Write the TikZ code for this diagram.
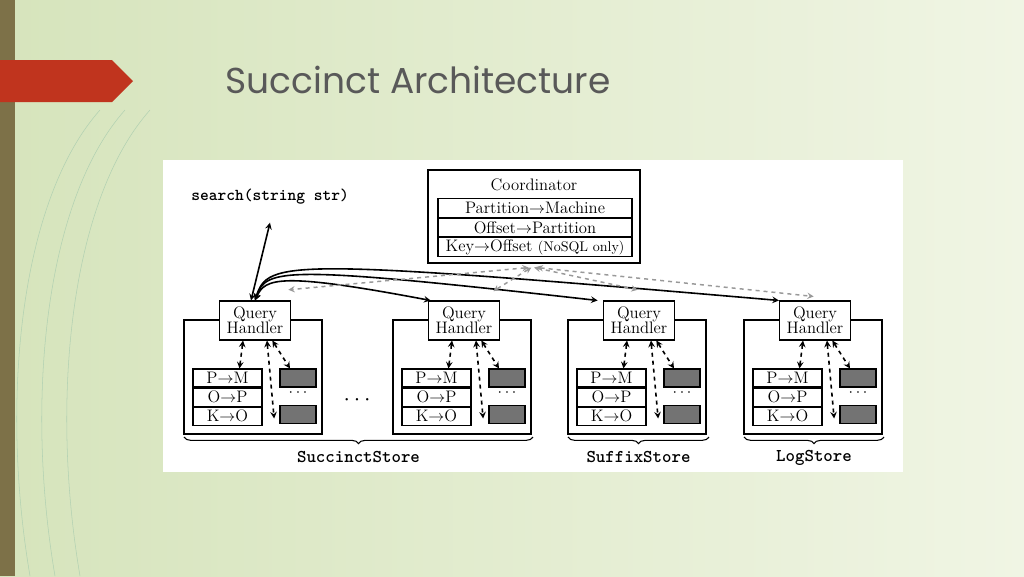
\documentclass[tikz,border=0pt]{standalone}
\usepackage{fontspec}
\newfontfamily\titlefont{Poppins}
\usetikzlibrary{positioning, decorations.pathreplacing}

\definecolor{slidegreen}{RGB}{214,228,188}
\definecolor{slidelight}{RGB}{240,245,228}
\definecolor{tabred}{RGB}{192,52,30}
\definecolor{barolive}{RGB}{125,113,72}

\begin{document}
\begin{tikzpicture}[x=0.75pt, y=-0.75pt,
    every node/.style={font=\fontsize{12.5}{12.5}\selectfont},
    qh/.style={draw, fill=white, thick, minimum width=53.25pt, minimum height=29.25pt, align=center, inner sep=0pt},
    outer/.style={draw, thick, minimum width=103.5pt, minimum height=85.5pt, inner sep=0pt},
    row/.style={draw, thick, minimum width=51.75pt, minimum height=13.5pt, inner sep=0pt},
    crow/.style={draw, thick, minimum width=145.5pt, minimum height=13.8pt, inner sep=0pt},
    blk/.style={draw, thick, fill=black!55, minimum width=27pt, minimum height=13.5pt, inner sep=0pt},
    solidarr/.style={<->, >=stealth, semithick, line width=1.2pt},
    dasharr/.style={<->, >=stealth, line width=1.2pt, dashed},
    grayarr/.style={<->, >=stealth, line width=1.1pt, dashed, black!40},
    brc/.style={decorate, decoration={brace, amplitude=5pt}, thick},
    lab/.style={font=\ttfamily\bfseries\fontsize{13.5}{14}\selectfont}
]
\useasboundingbox (0,0) rectangle (1024,576);
% slide background
\shade[left color=slidegreen, right color=slidelight] (0,0) rectangle (1024,576);
\fill[barolive] (0,0) rectangle (15,576);
\foreach \a in {0,25,50} {
  \draw[green!40!black!30, thin] (30+\a,576) .. controls (0+\a,400) and (20+\a,200) .. (100+\a,110);
}
\fill[tabred] (0,60) -- (112,60) -- (133,81) -- (112,102) -- (0,102) -- cycle;
\node[anchor=west, text=black!65, font=\titlefont\fontsize{27}{32}\selectfont] (title) at (221,80) {Succinct Architecture};

% diagram panel
\fill[white] (163,160) rectangle (903,472);

% coordinator
\node[draw, thick, minimum width=159pt, minimum height=69.75pt, inner sep=0pt] (coord) at (534,216.5) {};
\node (ctitle) at (534,185) {Coordinator};
\node[crow] (pm) at (535,208) {Partition$\to$Machine};
\node[crow, below=0pt of pm] (op) {Offset$\to$Partition};
\node[crow, below=0pt of op] (ko) {Key$\to$Offset {\fontsize{10.5}{11}\selectfont(NoSQL only)}};

\node[lab, font=\ttfamily\bfseries\fontsize{12.5}{13}\selectfont] (search) at (270,197) {search(string str)};

% stores
\foreach \i/\x in {1/184,2/393,3/568,4/744} {
  \node[outer] (st\i) at (\x+69,377) {};
  \node[qh] (qh\i) at (\x+71,320.5) {Query\\[-1pt]Handler};
  \node[row] (pm\i) at (\x+43.5,378) {P$\to$M};
  \node[row, below=0pt of pm\i] (op\i) {O$\to$P};
  \node[row, below=0pt of op\i] (ko\i) {K$\to$O};
  \node[blk] (ba\i) at (\x+114,378) {};
  \node[blk] (bb\i) at (\x+114,414.5) {};
  \node (dt\i) at (\x+114,393) {$\cdots$};
  \draw[dasharr] ([xshift=-9pt]qh\i.south) -- ([xshift=9pt]pm\i.north);
  \draw[dasharr] ([xshift=9pt]qh\i.south) -- ([xshift=-4pt,yshift=-3pt]bb\i.west);
  \draw[dasharr] ([xshift=13pt]qh\i.south) -- ([xshift=-6pt]ba\i.north);
}
\node[font=\fontsize{18}{18}\selectfont] (gap) at (357,400) {$\cdots$};

% braces
\draw[brc] (533,437) -- (184,437) node[midway, below=7pt, lab] (lab1) {SuccinctStore};
\draw[brc] (709,437) -- (568,437) node[midway, below=7pt, lab] (lab2) {SuffixStore};
\draw[brc] (884,437) -- (744,437) node[midway, below=6pt, lab] (lab3) {LogStore};

% client requests
\draw[solidarr] ([xshift=-3pt]qh1.north) -- ([yshift=-10pt]search.south);
\draw[solidarr] (qh1.north) .. controls (265,278) and (280,272) .. ([xshift=2pt]qh2.north west);
\draw[solidarr] (qh1.north) .. controls (266,268) and (282,265) .. ([xshift=-4pt]qh3.north west);
\draw[solidarr] (qh1.north) .. controls (268,260) and (285,258) .. ([xshift=0pt]qh4.north west);

% coordinator lookups
\draw[grayarr] ([xshift=-4pt,yshift=-3pt]coord.south) -- ([xshift=-2pt,yshift=8pt]qh1.north east);
\draw[grayarr] ([xshift=-2pt,yshift=-3pt]coord.south) -- ([xshift=-5pt,yshift=7pt]qh2.north east);
\draw[grayarr] ([xshift=0pt,yshift=-3pt]coord.south) -- ([xshift=-28pt,yshift=8pt]qh3.north east);
\draw[grayarr] ([xshift=2pt,yshift=-3pt]coord.south) -- ([xshift=-28pt,yshift=3pt]qh4.north east);
\end{tikzpicture}
\end{document}
